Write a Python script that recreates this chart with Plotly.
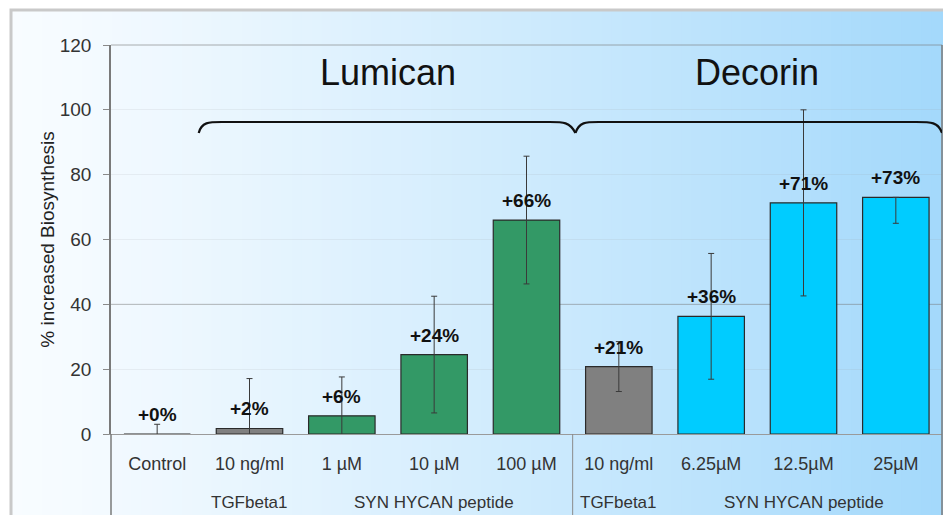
import plotly.graph_objects as go

# ---- data ----
categories = ["Control", "10 ng/ml", "1 µM", "10 µM", "100 µM",
              "10 ng/ml", "6.25µM", "12.5µM", "25µM"]
values = [0, 1.7, 5.6, 24.5, 66, 20.8, 36.3, 71.3, 73]
err_plus = [3, 15.4, 12, 18, 19.7, 7.7, 19.4, 28.7, 0]
err_minus = [3, 15.4, 12, 18, 19.7, 7.7, 19.4, 28.7, 8]
value_labels = ["+0%", "+2%", "+6%", "+24%", "+66%", "+21%", "+36%", "+71%", "+73%"]
bar_colors = ["#808080", "#808080", "#339966", "#339966", "#339966",
              "#808080", "#00ccff", "#00ccff", "#00ccff"]

treatment_labels = ["TGFbeta1", "SYN HYCAN peptide", "TGFbeta1", "SYN HYCAN peptide"]
treatment_members = [[1], [2, 3, 4], [5], [6, 7, 8]]
protein_labels = ["Lumican", "Decorin"]
protein_members = [[1, 2, 3, 4], [5, 6, 7, 8]]

y_ticks = [0, 20, 40, 60, 80, 100, 120]

FONT = "Liberation Sans, Arial, sans-serif"

x = list(range(len(categories)))

fig = go.Figure()
fig.add_trace(go.Bar(
    x=x, y=values, width=0.72,
    marker=dict(color=bar_colors, line=dict(color="#2a2a2a", width=1.2)),
    error_y=dict(type="data", array=err_plus, arrayminus=err_minus,
                 symmetric=False, color="#3a3a3a", thickness=1, width=3),
    hoverinfo="skip",
))

annotations = []
for i, (v, lab) in enumerate(zip(values, value_labels)):
    annotations.append(dict(x=i, y=v, xref="x", yref="y", text="<b>%s</b>" % lab,
                            showarrow=False, yanchor="bottom", yshift=7,
                            font=dict(family=FONT, size=19, color="#111")))

# page pixel -> paper coordinates (page has an 8px body offset)
def px2paper(px):
    return (px - 111) / 831.0
def py2paper(py):
    return (434 - py) / 389.0

for lab, mem in zip(treatment_labels, treatment_members):
    annotations.append(dict(x=sum(mem) / len(mem), y=py2paper(502), xref="x", yref="paper",
                            text=lab, showarrow=False, yanchor="middle",
                            font=dict(family=FONT, size=17, color="#333")))

for lab, mem in zip(protein_labels, protein_members):
    annotations.append(dict(x=sum(mem) / len(mem), y=py2paper(72), xref="x", yref="paper",
                            text=lab, showarrow=False, yanchor="middle",
                            font=dict(family=FONT, size=36, color="#111")))

shapes = []
# background gradient (horizontal, white -> light blue)
n = 94
px0, px1 = 12, 951
c0 = (248, 252, 255)
c1 = (162, 216, 251)
for k in range(n):
    a = px0 + (px1 - px0) * k / n
    b = px0 + (px1 - px0) * (k + 1) / n
    t = ((k + 0.5) / n) ** 1.2
    col = "rgb(%d,%d,%d)" % tuple(round(c0[j] + (c1[j] - c0[j]) * t) for j in range(3))
    shapes.append(dict(type="rect", xref="paper", yref="paper",
                       x0=px2paper(a), x1=px2paper(b) + 0.002,
                       y0=py2paper(520), y1=py2paper(11),
                       fillcolor=col, line=dict(width=0), layer="below"))
# frame
shapes.append(dict(type="path", xref="paper", yref="paper",
                   path="M %f,%f L %f,%f L %f,%f" % (px2paper(11), py2paper(520),
                                                    px2paper(11), py2paper(10),
                                                    px2paper(955), py2paper(10)),
                   line=dict(color="#c9c9c9", width=3), layer="below"))
# faint 40 gridline
shapes.append(dict(type="line", xref="paper", yref="y", x0=0, x1=1, y0=40, y1=40,
                   line=dict(color="rgba(110,110,110,0.45)", width=1), layer="below"))
# plot border top / right
shapes.append(dict(type="line", xref="paper", yref="paper", x0=0, x1=1, y0=1, y1=1,
                   line=dict(color="rgba(120,120,120,0.6)", width=1)))
shapes.append(dict(type="line", xref="paper", yref="paper", x0=1, x1=1, y0=py2paper(520), y1=1,
                   line=dict(color="#7a7a7a", width=1.5)))
# vertical dividers in label area
shapes.append(dict(type="line", xref="paper", yref="paper", x0=0, x1=0, y0=py2paper(520), y1=0,
                   line=dict(color="#7a7a7a", width=1.5)))
shapes.append(dict(type="line", xref="x", yref="paper", x0=4.5, x1=4.5, y0=py2paper(520), y1=0,
                   line=dict(color="#8a8a8a", width=1)))

# braces
yt = py2paper(122)
yb = py2paper(133)
lum = ("M 0.45,{yb} C 0.48,{yt} 0.56,{yt} 0.70,{yt} L 4.25,{yt} "
       "C 4.40,{yt} 4.47,{yt} 4.53,{yb}").format(yt=yt, yb=yb)
dec = ("M 4.53,{yb} C 4.57,{yt} 4.64,{yt} 4.78,{yt} L 8.22,{yt} "
       "C 8.38,{yt} 8.46,{yt} 8.5,{yb}").format(yt=yt, yb=yb)
for p in (lum, dec):
    shapes.append(dict(type="path", xref="x", yref="paper", path=p,
                       line=dict(color="#111", width=2.2)))

fig.update_layout(
    width=943, height=507,
    margin=dict(l=103, r=9, t=37, b=81),
    paper_bgcolor="white", plot_bgcolor="rgba(0,0,0,0)",
    showlegend=False,
    font=dict(family=FONT, color="#333"),
    annotations=annotations, shapes=shapes,
    xaxis=dict(range=[-0.5, 8.5], tickvals=x, ticktext=categories,
               showgrid=False, zeroline=False, showline=True,
               linecolor="#9a9a9a", linewidth=1.2,
               ticks="outside", ticklen=13, tickcolor="rgba(0,0,0,0)",
               tickfont=dict(family=FONT, size=18, color="#333"), fixedrange=True),
    yaxis=dict(range=[0, 120], tickvals=y_ticks, showgrid=True,
               gridcolor="rgba(150,150,150,0.12)", zeroline=False,
               showline=True, linecolor="#7a7a7a", linewidth=1.5,
               ticks="outside", ticklen=6, tickcolor="#8a8a8a",
               ticklabelstandoff=8,
               tickfont=dict(family=FONT, size=19, color="#333"),
               title=dict(text="% increased Biosynthesis", standoff=0,
                          font=dict(family=FONT, size=19, color="#222")),
               fixedrange=True),
)

fig.write_html("out.html")
